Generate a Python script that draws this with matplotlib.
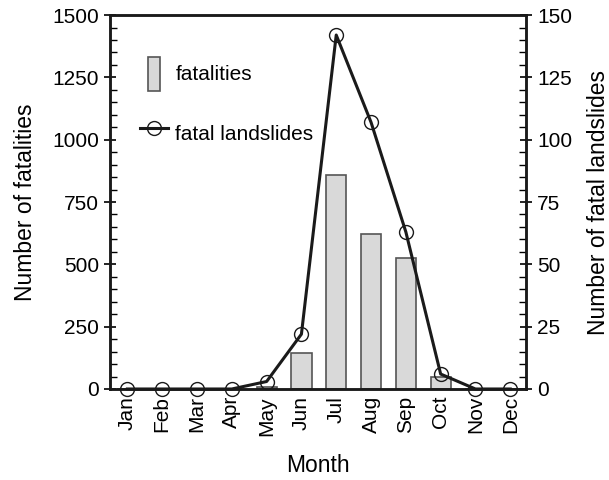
import matplotlib
matplotlib.use("Agg")
from matplotlib import pyplot as plt
from matplotlib.patches import Rectangle
from matplotlib.legend_handler import HandlerPatch

plt.rcParams['font.family'] = ['Liberation Sans', 'DejaVu Sans']

months = ["Jan", "Feb", "Mar", "Apr", "May", "Jun",
          "Jul", "Aug", "Sep", "Oct", "Nov", "Dec"]
fatalities = [0, 0, 0, 0, 8, 145, 860, 620, 525, 50, 0, 0]
landslides = [0, 0, 0, 0, 3, 22, 142, 107, 63, 6, 0, 0]

x = list(range(len(months)))
fs = 15      # tick labels / legend
lfs = 16.5   # axis labels

fig = plt.figure(figsize=(6.09, 4.8), dpi=100)
ax = fig.add_axes([0.1806, 0.1896, 0.683, 0.779])

bars = ax.bar(x, fatalities, width=0.58, color='#d9d9d9',
              edgecolor='#555555', linewidth=1.2, label='fatalities')
ax.set_xlim(-0.5, 11.45)
ax.set_ylim(0, 1500)
ax.set_yticks([0, 250, 500, 750, 1000, 1250, 1500])
ax.set_yticks(range(0, 1501, 50), minor=True)
ax.set_xticks(x)
ax.set_xticklabels(months, rotation=90)
ax.set_xlabel("Month", fontsize=lfs, labelpad=13)
ax.set_ylabel("Number of fatalities", fontsize=lfs, labelpad=11)

ax2 = ax.twinx()
line, = ax2.plot(x, landslides, color='#1a1a1a', linewidth=2.2,
                 marker='o', markersize=10, markerfacecolor='none',
                 markeredgecolor='#1a1a1a', markeredgewidth=1.0,
                 clip_on=False, label='fatal landslides')
ax2.set_ylim(0, 150)
ax2.set_yticks([0, 25, 50, 75, 100, 125, 150])
ax2.set_yticks(range(0, 151, 5), minor=True)
ax2.set_ylabel("Number of fatal landslides", fontsize=lfs, labelpad=11)

for a in (ax, ax2):
    for s in a.spines.values():
        s.set_linewidth(1.8)
        s.set_color('#1a1a1a')
ax.tick_params(axis='both', which='major', labelsize=fs, direction='inout',
               length=9, width=1.2)
ax.tick_params(axis='y', which='minor', direction='in', length=5, width=1.0)
ax.tick_params(axis='x', which='major', length=0, pad=5)
ax2.tick_params(axis='y', which='major', labelsize=fs, direction='inout',
                length=9, width=1.2)
ax2.tick_params(axis='y', which='minor', direction='in', length=5, width=1.0)


def tall_bar(legend, orig_handle, xdescent, ydescent, width, height, fontsize):
    w = 9
    return Rectangle((width / 2 - w / 2 - xdescent, -ydescent), w, height)


bar_handle = bars.patches[0]
ax2.legend([bar_handle, line], ['fatalities', 'fatal landslides'],
           handler_map={bar_handle: HandlerPatch(patch_func=tall_bar)},
           loc='upper left', bbox_to_anchor=(0.052, 0.91), borderaxespad=0,
           frameon=False, fontsize=fs, handlelength=1.35, handleheight=2.1,
           labelspacing=1.25, handletextpad=0.35)

fig.savefig("out.png", dpi=100)
